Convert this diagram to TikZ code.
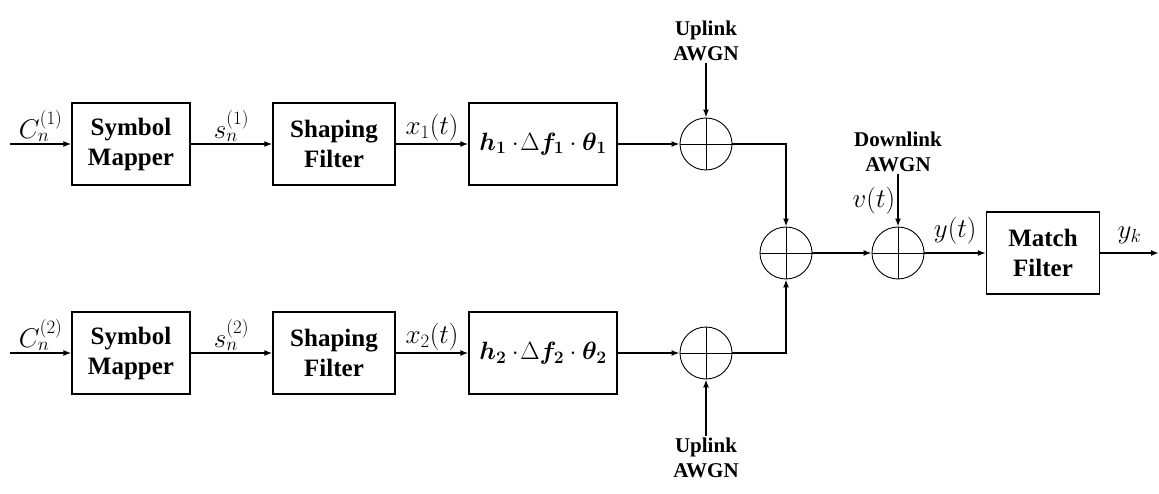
\RequirePackage{fix-cm}
\documentclass[tikz,border=0pt]{standalone}
\usepackage{amsmath,bm}
\usepackage{fontspec}
\setmainfont{Liberation Serif}
\usetikzlibrary{arrows.meta}

\begin{document}
\begin{tikzpicture}[
  x=1pt, y=-1pt,
  block/.style={rectangle, draw, line width=1.2pt, minimum width=#1, minimum height=82pt,
                font=\fontsize{25}{30}\selectfont\bfseries, align=center, inner sep=0pt},
  block/.default=118pt,
  adder/.style={circle, draw, line width=0.9pt, minimum size=52pt, inner sep=0pt},
  arr/.style={-{Latex[length=8pt,width=6pt]}, line width=1.7pt},
  lbl/.style={font=\fontsize{27}{32}\selectfont, inner sep=2pt},
  noise/.style={font=\fontsize{21}{25}\selectfont\bfseries, align=center, inner sep=2pt}
]
  \useasboundingbox (0,0) rectangle (1159,494);

  % Branche 1
  \coordinate (in1) at (10,144);
  \node[block] (sm1) at (131,144) {Symbol\\Mapper};
  \node[block=122pt] (sf1) at (334,144) {Shaping\\Filter};
  \node[block=148pt] (ch1) at (543,144) {$\bm{h_1}\cdot\!\Delta\bm{f_1}\cdot\bm{\theta_1}$};
  \node[adder] (add1) at (706,144) {};
  \node[noise, anchor=south] (up1) at (706,63) {Uplink\\AWGN};

  % Branche 2
  \coordinate (in2) at (10,353);
  \node[block] (sm2) at (131,353) {Symbol\\Mapper};
  \node[block=122pt] (sf2) at (334,353) {Shaping\\Filter};
  \node[block=148pt] (ch2) at (543,353) {$\bm{h_2}\cdot\!\Delta\bm{f_2}\cdot\bm{\theta_2}$};
  \node[adder] (add2) at (706,353) {};
  \node[noise, anchor=north] (up2) at (706,436) {Uplink\\AWGN};

  % Recepteur
  \node[adder] (add3) at (786,253) {};
  \node[adder] (add4) at (898,253) {};
  \node[noise, anchor=south] (dl) at (898,174) {Downlink\\AWGN};
  \node[block=113pt] (mf) at (1043,253) {Match\\Filter};
  \coordinate (out) at (1159,253);

  \foreach \a in {add1,add2,add3,add4}
    \draw[line width=0.8pt] (\a.north) -- (\a.south) (\a.west) -- (\a.east);

  \draw[arr] (in1) -- node[lbl, above] {$C_n^{(1)}$} (sm1);
  \draw[arr] (sm1) -- node[lbl, above] {$s_n^{(1)}$} (sf1);
  \draw[arr] (sf1) -- node[lbl, above] {$x_1(t)$} (ch1);
  \draw[arr] (ch1) -- (add1);
  \draw[arr] (up1) -- (add1);

  \draw[arr] (in2) -- node[lbl, above] {$C_n^{(2)}$} (sm2);
  \draw[arr] (sm2) -- node[lbl, above] {$s_n^{(2)}$} (sf2);
  \draw[arr] (sf2) -- node[lbl, above] {$x_2(t)$} (ch2);
  \draw[arr] (ch2) -- (add2);
  \draw[arr] (up2) -- (add2);

  \draw[arr] (add1.east) -| (add3.north);
  \draw[arr] (add2.east) -| (add3.south);
  \draw[arr] (add3) -- (add4);
  \draw[arr] (dl) -- node[lbl, left] {$v(t)$} (add4);
  \draw[arr] (add4) -- node[lbl, above, yshift=6pt] {$y(t)$} (mf);
  \draw[arr] (mf) -- node[lbl, above, yshift=6pt] {$y_k$} (out);
\end{tikzpicture}
\end{document}
